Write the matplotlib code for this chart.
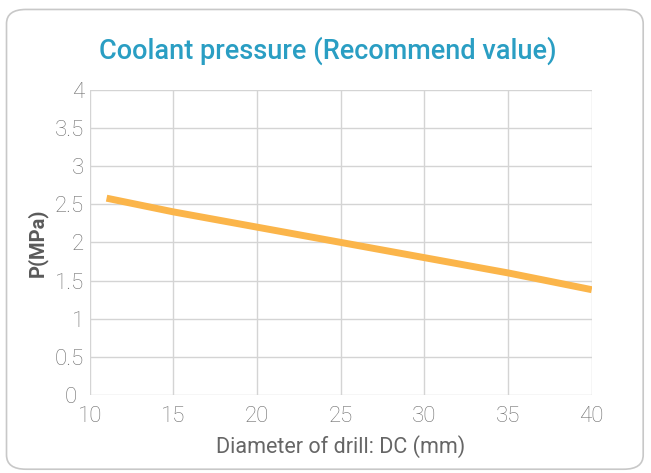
import matplotlib.pyplot as plt
from matplotlib.patches import FancyBboxPatch

# recommended coolant pressure vs drill diameter
diameter = [11, 15, 20, 25, 30, 35, 40]
pressure = [2.58, 2.40, 2.20, 2.00, 1.80, 1.60, 1.38]

x_ticks = [10, 15, 20, 25, 30, 35, 40]
y_ticks = [0, 0.5, 1, 1.5, 2, 2.5, 3, 3.5, 4]
y_labels = ['0', '0.5', '1', '1.5', '2', '2.5', '3', '3.5', '4']

plt.rcParams['font.family'] = ['Roboto', 'DejaVu Sans']

fig = plt.figure(figsize=(6.51, 4.73), dpi=100)

# rounded frame around the whole card
frame = FancyBboxPatch((0.010, 0.008), 0.978, 0.972,
                       boxstyle='round,pad=0,rounding_size=0.03',
                       transform=fig.transFigure, facecolor='white',
                       edgecolor='#c8c8c8', linewidth=1.2, zorder=-5)
fig.patches.append(frame)

ax = fig.add_axes([0.138, 0.165, 0.771, 0.645])
ax.set_facecolor('none')
ax.plot(diameter, pressure, color='#fbb54a', linewidth=5, solid_capstyle='butt')

ax.set_xlim(10, 40)
ax.set_ylim(0, 4)
ax.set_xticks(x_ticks)
ax.set_yticks(y_ticks)
ax.set_yticklabels(y_labels)
ax.grid(True, color='#d4d4d4', linewidth=1)
ax.set_axisbelow(True)
for s in ax.spines.values():
    s.set_visible(False)
ax.tick_params(length=0, labelsize=16, colors='#6e6e6e', pad=4)
ax.tick_params(axis='x', pad=8)
for lbl in ax.get_xticklabels() + ax.get_yticklabels():
    lbl.set_fontweight('light')
# push the "0" label away from the corner so it clears "10"
ax.yaxis.get_major_ticks()[0].set_pad(9)

ax.set_xlabel('Diameter of drill: DC (mm)', fontsize=15.5, color='#666666', labelpad=6)
ax.set_ylabel('P(MPa)', fontsize=14.5, color='#5a5a5a', fontweight='bold', labelpad=5)

fig.text(0.503, 0.893, 'Coolant pressure (Recommend value)', ha='center', va='center',
         fontsize=19.5, color='#2a9ec3', fontweight='medium')

fig.savefig('out.png', dpi=100)
